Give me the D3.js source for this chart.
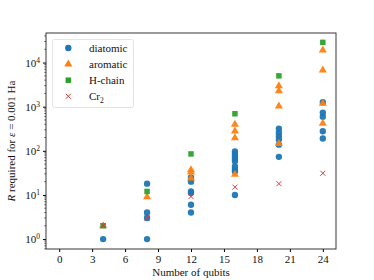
<!DOCTYPE html>
<html>
<head>
<meta charset="utf-8">
<script src="https://d3js.org/d3.v7.min.js"></script>
<style>
    body { margin: 0; background: #fff; }
    svg text { font-family: "Liberation Serif", "DejaVu Serif", serif !important; fill: #111; }
</style>
</head>
<body>
<div id="chart"></div>
<script>
    // Data: [qubits, R]
    const diatomic = [
        [4, 1], [8, 18], [8, 4], [8, 3], [8, 1],
        [12, 25], [12, 20], [12, 12], [12, 11], [12, 6], [12, 4],
        [16, 97], [16, 85], [16, 75], [16, 66], [16, 58], [16, 44], [16, 38], [16, 34], [16, 10],
        [20, 316], [20, 256], [20, 215], [20, 181], [20, 138], [20, 73],
        [24, 1260], [24, 730], [24, 590], [24, 278], [24, 190]
    ];
    const aromatic = [
        [4, 2], [8, 9], [12, 37], [12, 33], [12, 24],
        [16, 395], [16, 278], [16, 196], [16, 29],
        [20, 2950], [20, 2270], [20, 1030], [20, 145],
        [24, 19000], [24, 6700], [24, 1180], [24, 417]
    ];
    const hchain = [[4, 2], [8, 12], [12, 85], [16, 692], [20, 5000], [24, 28700]];
    const cr2 = [[4, 2], [8, 3], [12, 9.2], [16, 15], [20, 18], [24, 31]];
    const xTicks = [0, 3, 6, 9, 12, 15, 18, 21, 24];
    const yTicks = [1, 10, 100, 1000, 10000];

    const width = 374, height = 280;
    const margin = {left: 46, right: 38, top: 33, bottom: 31};

    const svg = d3.select("#chart").append("svg")
        .attr("width", width).attr("height", height)
        .attr("font-family", "Liberation Serif");

    const x = d3.scaleLinear().domain([-1.2, 25.2])
        .range([margin.left, width - margin.right]);
    const y = d3.scaleLog().domain([Math.pow(10, -0.225), Math.pow(10, 4.67)])
        .range([height - margin.bottom, margin.top]);

    const colors = {blue: "#1f77b4", orange: "#ff7f0e", green: "#2ca02c", red: "#e0393e"};

    // x axis
    const xAxis = svg.append("g")
        .attr("transform", `translate(0,${height - margin.bottom})`)
        .call(d3.axisBottom(x).tickValues(xTicks).tickSize(3).tickPadding(3))
        .attr("font-family", "Liberation Serif").attr("font-size", 11);
    xAxis.select(".domain").remove();

    // y axis major
    const yAxis = svg.append("g")
        .attr("transform", `translate(${margin.left},0)`)
        .call(d3.axisLeft(y).tickValues(yTicks).tickSize(3).tickPadding(3).tickFormat(""))
        .attr("font-family", "Liberation Serif").attr("font-size", 11);
    yAxis.select(".domain").remove();
    yAxis.selectAll(".tick").append("text")
        .attr("x", -6).attr("dy", "0.35em")
        .attr("text-anchor", "end")
        .html(d => `10<tspan dy="-4" font-size="7.5">${Math.round(Math.log10(d))}</tspan>`);

    // y minor ticks
    const minor = [];
    for (let e = -1; e <= 4; e++) {
        for (let m = 2; m <= 9; m++) {
            const v = m * Math.pow(10, e);
            if (v >= y.domain()[0] && v <= y.domain()[1]) minor.push(v);
        }
    }
    svg.append("g").selectAll("line").data(minor).enter().append("line")
        .attr("x1", margin.left - 1.7).attr("x2", margin.left)
        .attr("y1", d => y(d)).attr("y2", d => y(d))
        .attr("stroke", "#222").attr("stroke-width", 0.7);

    // frame
    svg.append("rect")
        .attr("x", margin.left).attr("y", margin.top)
        .attr("width", width - margin.left - margin.right)
        .attr("height", height - margin.top - margin.bottom)
        .attr("fill", "none").attr("stroke", "#222").attr("stroke-width", 0.9);

    // markers
    const sym = {
        circle: d3.symbol().type(d3.symbolCircle).size(32),
        triangle: d3.symbol().type(d3.symbolTriangle).size(28),
        square: d3.symbol().type(d3.symbolSquare).size(30)
    };
    function drawPath(data, gen, color) {
        svg.append("g").selectAll("path").data(data).enter().append("path")
            .attr("d", gen)
            .attr("transform", d => `translate(${x(d[0])},${y(d[1])})`)
            .attr("fill", color).attr("fill-opacity", 0.95);
    }
    function drawCross(data, color) {
        const s = 2.5;
        const g = svg.append("g").selectAll("g").data(data).enter().append("g")
            .attr("transform", d => `translate(${x(d[0])},${y(d[1])})`)
            .attr("stroke", color).attr("stroke-width", 1);
        g.append("line").attr("x1", -s).attr("y1", -s).attr("x2", s).attr("y2", s);
        g.append("line").attr("x1", -s).attr("y1", s).attr("x2", s).attr("y2", -s);
    }
    drawPath(diatomic, sym.circle, colors.blue);
    drawPath(aromatic, sym.triangle, colors.orange);
    drawPath(hchain, sym.square, colors.green);
    drawCross(cr2, colors.red);

    // legend
    const leg = svg.append("g").attr("font-size", 11);
    leg.append("rect")
        .attr("x", 52.5).attr("y", 39.5).attr("width", 81).attr("height", 68)
        .attr("rx", 2).attr("fill", "#fff").attr("fill-opacity", 0.8)
        .attr("stroke", "#ddd").attr("stroke-width", 0.8);
    const items = [
        {name: "diatomic", type: "circle", color: colors.blue},
        {name: "aromatic", type: "triangle", color: colors.orange},
        {name: "H-chain", type: "square", color: colors.green},
        {name: "Cr", sub: "2", type: "cross", color: colors.red}
    ];
    items.forEach((it, i) => {
        const cy = 48 + i * 16.1, cx = 68.3;
        if (it.type === "cross") {
            const s = 2.5;
            leg.append("path")
                .attr("d", `M${cx - s},${cy - s}L${cx + s},${cy + s}M${cx - s},${cy + s}L${cx + s},${cy - s}`)
                .attr("stroke", it.color).attr("stroke-width", 1);
        } else {
            leg.append("path").attr("d", sym[it.type])
                .attr("transform", `translate(${cx},${cy})`).attr("fill", it.color);
        }
        const t = leg.append("text").attr("x", 89).attr("y", cy).attr("dy", "0.35em")
            .text(it.name);
        if (it.sub) t.append("tspan").attr("dy", 2.5).attr("font-size", 7.5).text(it.sub);
    });

    // axis labels
    svg.append("text")
        .attr("x", (margin.left + width - margin.right) / 2).attr("y", 276)
        .attr("text-anchor", "middle").attr("font-size", 11)
        .text("Number of qubits");
    svg.append("text")
        .attr("transform", `translate(15,${(margin.top + height - margin.bottom) / 2}) rotate(-90)`)
        .attr("text-anchor", "middle").attr("font-size", 11)
        .html('<tspan font-style="italic">R</tspan> required for <tspan font-style="italic">ε</tspan> = 0.001 Ha');
</script>
</body>
</html>
